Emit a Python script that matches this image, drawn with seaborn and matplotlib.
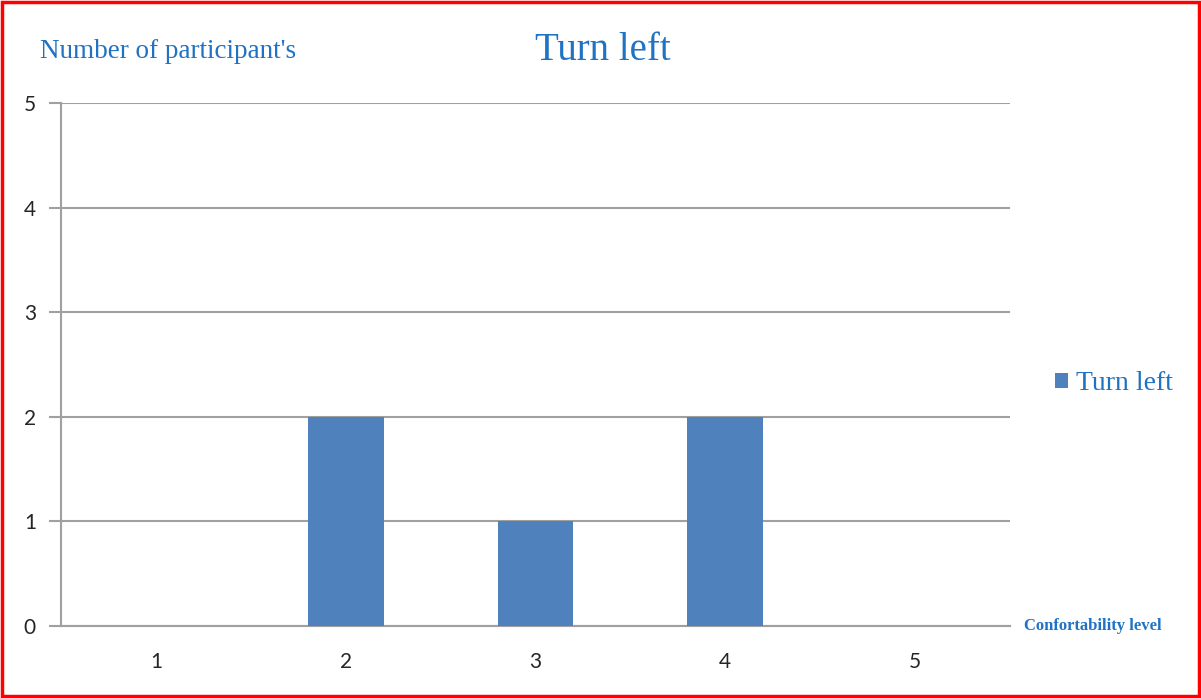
import matplotlib
matplotlib.use("Agg")
import matplotlib.pyplot as plt
from matplotlib.patches import Rectangle
import seaborn as sns
import pandas as pd

# Comfort ratings for the "Turn left" manoeuvre
levels = ["1", "2", "3", "4", "5"]
participants = [0, 2, 1, 2, 0]
series_name = "Turn left"
y_ticks = [0, 1, 2, 3, 4, 5]

BLUE_TEXT = "#1F72C4"
BAR = "#4F81BD"
GRID = "#A0A0A0"

sns.set_theme(style="white")
plt.rcParams["font.family"] = ["Liberation Serif", "DejaVu Serif"]

df = pd.DataFrame({"level": levels, "count": participants})

fig = plt.figure(figsize=(12.01, 6.98), dpi=100)
ax = fig.add_axes([61 / 1201, 1 - 626 / 698, (1010 - 61) / 1201, (626 - 103) / 698])

sns.barplot(data=df, x="level", y="count", color=BAR, width=0.4,
            saturation=1, label=series_name, ax=ax, zorder=3, linewidth=0)

ax.set_xlim(-0.5, len(levels) - 0.5)
ax.set_ylim(0, 5)
ax.set_yticks(y_ticks)
ax.yaxis.grid(True, color=GRID, linewidth=1.5, zorder=0)
ax.xaxis.grid(False)
for side in ("top", "right"):
    ax.spines[side].set_visible(False)
for side in ("left", "bottom"):
    ax.spines[side].set_color(GRID)
    ax.spines[side].set_linewidth(1.5)

tick_font = dict(family=["Lato", "DejaVu Sans"], size=15, color="#262626")
ax.set_xticks(range(len(levels)))
ax.set_xticklabels(levels, **tick_font)
ax.set_yticklabels([str(v) for v in y_ticks], **tick_font)
ax.tick_params(axis="x", which="major", length=0, pad=19)
ax.set_xticks([i - 0.5 for i in range(len(levels) + 1)], minor=True)
ax.tick_params(axis="x", which="minor", length=7, width=1.5, color=GRID, direction="out")
ax.tick_params(axis="y", length=9, width=1.5, color=GRID, direction="out", pad=9, left=True)
ax.set_xlabel("")
ax.set_ylabel("")

fig.text(603 / 1201, 1 - 50 / 698, "Turn left", ha="center", va="center",
         fontsize=28, color=BLUE_TEXT)
fig.text(40 / 1201, 1 - 52 / 698, "Number of participant's", ha="left", va="center",
         fontsize=19.5, color=BLUE_TEXT)
fig.text(1024 / 1201, 1 - 626 / 698, "Confortability level", ha="left", va="center",
         fontsize=12, fontweight="bold", color=BLUE_TEXT)

leg = ax.legend(loc="center left", bbox_to_anchor=(1052 / 1201, 1 - 384 / 698),
                bbox_transform=fig.transFigure, frameon=False,
                handlelength=0.47, handleheight=0.47, handletextpad=0.3,
                borderpad=0.1, borderaxespad=0,
                prop={"family": "Liberation Serif", "size": 20})
for t in leg.get_texts():
    t.set_color(BLUE_TEXT)

fig.patches.append(Rectangle((0.002, 0.003), 0.996, 0.994, transform=fig.transFigure,
                             fill=False, edgecolor="#FF0000", linewidth=2.5))

fig.savefig("out.png", dpi=100)
